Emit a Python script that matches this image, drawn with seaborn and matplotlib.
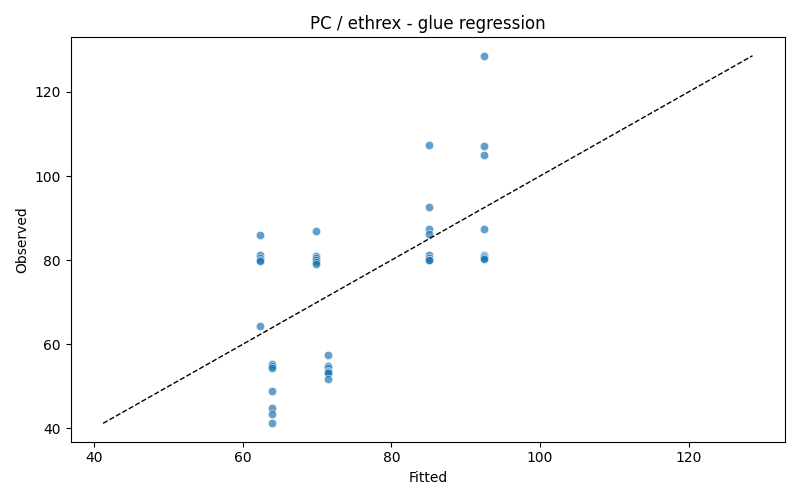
import numpy as np
import pandas as pd
import matplotlib
matplotlib.use("Agg")
import matplotlib.pyplot as plt
import seaborn as sns

# fitted group means and the observed values in each group
fitted = ([62.3] * 6 + [63.9] * 7 + [69.9] * 6 + [71.4] * 7
          + [85.0] * 8 + [92.4] * 9)
observed = [86.0, 81.3, 80.6, 80.0, 79.8, 64.3,
            55.3, 54.9, 54.3, 48.8, 44.8, 43.4, 41.2,
            87.0, 80.9, 80.5, 80.0, 79.6, 79.2,
            57.4, 54.9, 54.3, 53.7, 53.4, 53.2, 51.7,
            107.4, 92.6, 87.5, 86.2, 81.3, 80.5, 80.1, 80.0,
            128.6, 107.1, 105.1, 87.4, 81.3, 81.0, 80.8, 80.6, 80.3]

df = pd.DataFrame({"Fitted": fitted, "Observed": observed})

fig, ax = plt.subplots(figsize=(8, 5), dpi=100)
sns.scatterplot(data=df, x="Fitted", y="Observed", alpha=0.7, ax=ax)
lo = min(df.Fitted.min(), df.Observed.min())
hi = max(df.Fitted.max(), df.Observed.max())
ax.plot([lo, hi], [lo, hi], "k--", lw=1)
ax.set_title("PC / ethrex - glue regression")
ax.set_xlabel("Fitted")
ax.set_ylabel("Observed")
fig.tight_layout()
fig.savefig("out.png")
